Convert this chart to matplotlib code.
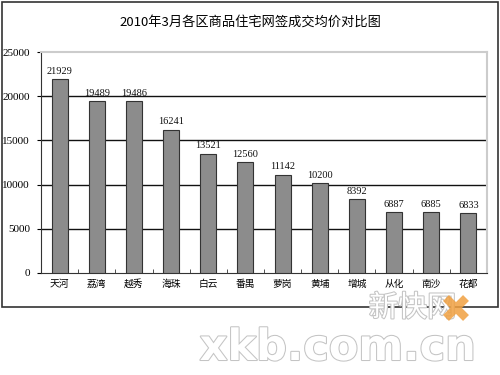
import matplotlib
matplotlib.use("Agg")
import matplotlib.pyplot as plt
import matplotlib.patheffects as pe
from matplotlib.patches import Rectangle
from matplotlib.lines import Line2D
import numpy as np

plt.rcParams['font.family'] = ['Noto Sans CJK SC', 'DejaVu Sans']

title = "2010年3月各区商品住宅网签成交均价对比图"
districts = ["天河", "荔湾", "越秀", "海珠", "白云", "番禺", "萝岗", "黄埔", "增城", "从化", "南沙", "花都"]
prices = [21929, 19489, 19486, 16241, 13521, 12560, 11142, 10200, 8392, 6887, 6885, 6833]
yticks = [0, 5000, 10000, 15000, 20000, 25000]

fig = plt.figure(figsize=(5, 3.75), dpi=100)

# outer frame around the chart
fig.patches.append(Rectangle((0.004, 0.181), 0.992, 0.813, transform=fig.transFigure,
                             fill=False, edgecolor="#333333", linewidth=1.2))

ax = fig.add_axes([0.082, 0.272, 0.892, 0.589])
x = np.arange(len(districts))
ax.bar(x, prices, width=0.43, color="#8c8c8c", edgecolor="#333333", linewidth=0.8, zorder=3)

for xi, v in zip(x, prices):
    ax.text(xi, v + 350, str(v), ha="center", va="bottom", fontsize=7.5,
            family="Liberation Serif", color="#111111")

ax.set_xlim(-0.5, len(districts) - 0.5)
ax.set_ylim(0, 25000)
ax.set_yticks(yticks)
ax.set_yticklabels([str(t) for t in yticks], family="Liberation Serif", fontsize=8)
ax.set_xticks(x)
ax.set_xticklabels(districts, fontsize=7)
ax.tick_params(axis="x", length=0, pad=4)
ax.tick_params(axis="y", length=3, pad=5)
ax.set_xticks(np.arange(len(districts) + 1) - 0.5, minor=True)
ax.tick_params(axis="x", which="minor", direction="in", length=3, color="#333333")

for t in yticks[1:-1]:
    ax.axhline(t, color="#111111", linewidth=1.0, zorder=1)

ax.spines["left"].set_color("#333333")
ax.spines["bottom"].set_color("#333333")
ax.spines["top"].set_color("#cccccc")
ax.spines["right"].set_color("#cccccc")
ax.spines["top"].set_linewidth(1.5)
ax.spines["right"].set_linewidth(1.5)

fig.text(0.5, 0.941, title, ha="center", va="center", fontsize=9.5, fontweight="medium")

# watermark
outline = [pe.withStroke(linewidth=1.5, foreground="#c4c4c4")]
fig.text(0.825, 0.178, "新快网", ha="center", va="center", fontsize=21, color="white",
         path_effects=outline, zorder=5)
# orange cross inside the logo
fig.lines.append(Line2D([0.912], [0.178], marker="x", markersize=14, markeredgewidth=6,
                        color="#f0a040", alpha=0.85, transform=fig.transFigure, zorder=6))
fig.text(0.675, 0.072, "xkb.com.cn", ha="center", va="center", fontsize=31, fontweight="bold",
         color="white", family="DejaVu Sans", path_effects=outline, zorder=5)

fig.savefig("out.png", dpi=100)
